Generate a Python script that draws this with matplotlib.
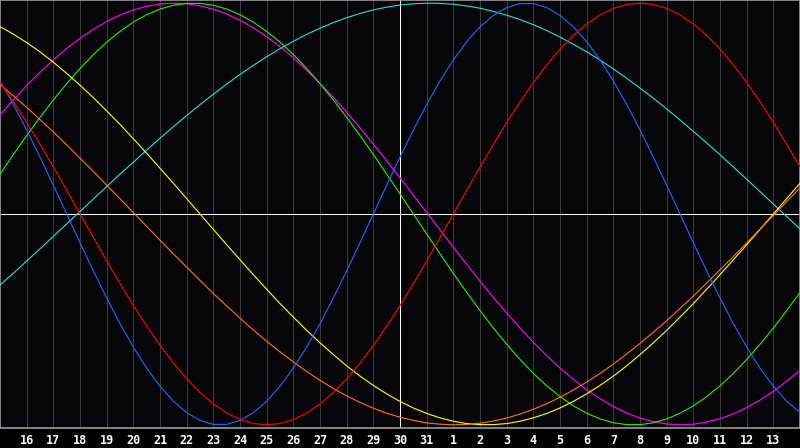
import matplotlib
matplotlib.use('Agg')
import matplotlib.pyplot as plt

# days shown, 15th of the month to 14th of the next
dates = ['15', '16', '17', '18', '19', '20', '21', '22', '23', '24', '25', '26',
         '27', '28', '29', '30', '31', '1', '2', '3', '4', '5', '6', '7', '8',
         '9', '10', '11', '12', '13', '14']
today = '30'
per_day = 2  # readings per day (every half day)

# cycle values, every half day from the 15th
physical = [0.631, 0.520, 0.398, 0.270, 0.136, 0.0, -0.136, -0.270, -0.398, -0.520,
            -0.631, -0.731, -0.817, -0.888, -0.942, -0.979, -0.998, -0.998, -0.979, -0.942,
            -0.888, -0.817, -0.731, -0.631, -0.520, -0.398, -0.270, -0.136, 0.0, 0.136,
            0.270, 0.398, 0.520, 0.631, 0.731, 0.817, 0.888, 0.942, 0.979, 0.998,
            0.998, 0.979, 0.942, 0.888, 0.817, 0.731, 0.631, 0.520, 0.398, 0.270,
            0.136, 0.0, -0.136, -0.270, -0.398, -0.520, -0.631, -0.731, -0.817, -0.888, -0.942]
emotional = [0.623, 0.532, 0.434, 0.330, 0.223, 0.112, 0.0, -0.112, -0.223, -0.330,
             -0.434, -0.532, -0.623, -0.707, -0.782, -0.847, -0.901, -0.944, -0.975, -0.994,
             -1.0, -0.994, -0.975, -0.944, -0.901, -0.847, -0.782, -0.707, -0.623, -0.532,
             -0.434, -0.330, -0.223, -0.112, 0.0, 0.112, 0.223, 0.330, 0.434, 0.532,
             0.623, 0.707, 0.782, 0.847, 0.901, 0.944, 0.975, 0.994, 1.0, 0.994,
             0.975, 0.944, 0.901, 0.847, 0.782, 0.707, 0.623, 0.532, 0.434, 0.330, 0.223]
intellectual = [0.189, 0.282, 0.372, 0.458, 0.541, 0.618, 0.690, 0.756, 0.815, 0.866,
                0.910, 0.945, 0.972, 0.990, 0.999, 0.999, 0.990, 0.972, 0.945, 0.910,
                0.866, 0.815, 0.756, 0.690, 0.618, 0.541, 0.458, 0.372, 0.282, 0.189,
                0.095, 0.0, -0.095, -0.189, -0.282, -0.372, -0.458, -0.541, -0.618, -0.690,
                -0.756, -0.815, -0.866, -0.910, -0.945, -0.972, -0.990, -0.999, -0.999, -0.990,
                -0.972, -0.945, -0.910, -0.866, -0.815, -0.756, -0.690, -0.618, -0.541, -0.458, -0.372]
intuitive = [0.470, 0.541, 0.609, 0.672, 0.731, 0.785, 0.833, 0.876, 0.913, 0.944,
             0.968, 0.985, 0.996, 1.0, 0.997, 0.987, 0.971, 0.948, 0.918, 0.883,
             0.841, 0.793, 0.740, 0.682, 0.619, 0.553, 0.482, 0.408, 0.331, 0.252,
             0.171, 0.089, 0.007, -0.076, -0.158, -0.239, -0.319, -0.396, -0.470, -0.541,
             -0.609, -0.672, -0.731, -0.785, -0.834, -0.876, -0.913, -0.944, -0.968, -0.985,
             -0.996, -1.0, -0.997, -0.987, -0.971, -0.948, -0.918, -0.883, -0.841, -0.793, -0.740]
aesthetic = [0.889, 0.853, 0.813, 0.769, 0.720, 0.667, 0.611, 0.552, 0.489, 0.425,
             0.357, 0.288, 0.217, 0.146, 0.073, 0.0, -0.073, -0.146, -0.217, -0.288,
             -0.357, -0.425, -0.489, -0.552, -0.611, -0.667, -0.720, -0.769, -0.813, -0.853,
             -0.889, -0.920, -0.946, -0.967, -0.983, -0.994, -0.999, -0.999, -0.994, -0.983,
             -0.967, -0.946, -0.920, -0.889, -0.853, -0.813, -0.769, -0.720, -0.667, -0.611,
             -0.552, -0.489, -0.425, -0.357, -0.288, -0.217, -0.146, -0.073, 0.0, 0.073, 0.146]
awareness = [0.614, 0.561, 0.506, 0.448, 0.389, 0.328, 0.265, 0.202, 0.137, 0.072,
             0.007, -0.059, -0.124, -0.189, -0.252, -0.315, -0.377, -0.436, -0.494, -0.550,
             -0.604, -0.654, -0.702, -0.747, -0.789, -0.828, -0.863, -0.894, -0.921, -0.945,
             -0.964, -0.979, -0.991, -0.997, -1.0, -0.998, -0.992, -0.982, -0.968, -0.949,
             -0.926, -0.900, -0.869, -0.835, -0.797, -0.756, -0.712, -0.664, -0.614, -0.561,
             -0.506, -0.448, -0.389, -0.328, -0.265, -0.202, -0.137, -0.072, -0.007, 0.059, 0.124]
spiritual = [-0.337, -0.281, -0.223, -0.165, -0.106, -0.047, 0.012, 0.071, 0.130, 0.189,
             0.246, 0.303, 0.359, 0.414, 0.467, 0.519, 0.568, 0.616, 0.662, 0.705,
             0.746, 0.784, 0.819, 0.852, 0.881, 0.908, 0.931, 0.951, 0.968, 0.981,
             0.991, 0.997, 1.0, 0.999, 0.995, 0.987, 0.976, 0.961, 0.943, 0.922,
             0.898, 0.870, 0.839, 0.805, 0.769, 0.730, 0.688, 0.644, 0.597, 0.549,
             0.498, 0.446, 0.392, 0.337, 0.281, 0.223, 0.165, 0.106, 0.047, -0.012, -0.071]

#drawing order and colours
series = [(spiritual, '#22e0e0'), (intuitive, '#ff00ff'), (intellectual, '#22ee00'),
          (aesthetic, '#ffff00'), (awareness, '#ff7700'), (physical, '#1a6aff'),
          (emotional, '#ff0000')]

fig = plt.figure(figsize=(8, 4.48), dpi=100, facecolor='#000000')
ax = fig.add_axes([0, 20 / 448, 1, 428 / 448])
ax.set_facecolor('#060608')

days = list(range(len(dates)))
t = [k / per_day for k in range(len(physical))]

#day grid, 1px
for d in days[1:-1]:
    ax.axvline(d, color='#3a3a3a', lw=0.6, zorder=1, antialiased=False)

#today and zero line
ax.axvline(dates.index(today), color='white', lw=0.7, zorder=2, antialiased=False)
ax.axhline(0, color='white', lw=0.7, zorder=2, antialiased=False)

for vals, c in series:
    ax.plot(t, vals, color=c, lw=0.8, zorder=3)

ax.set_xlim(0, len(dates) - 1)
ax.set_ylim(-1.015, 1.015)
ax.set_yticks([])
ax.set_xticks(days[1:-1])
ax.set_xticklabels(dates[1:-1], color='white', fontweight='bold',
                   family='DejaVu Sans Mono', fontsize=8.5)
ax.tick_params(axis='x', length=0, pad=4)
for s in ax.spines.values():
    s.set_color('#9a9a9a')
    s.set_linewidth(1.2)

fig.savefig('out.png', dpi=100, facecolor=fig.get_facecolor())
